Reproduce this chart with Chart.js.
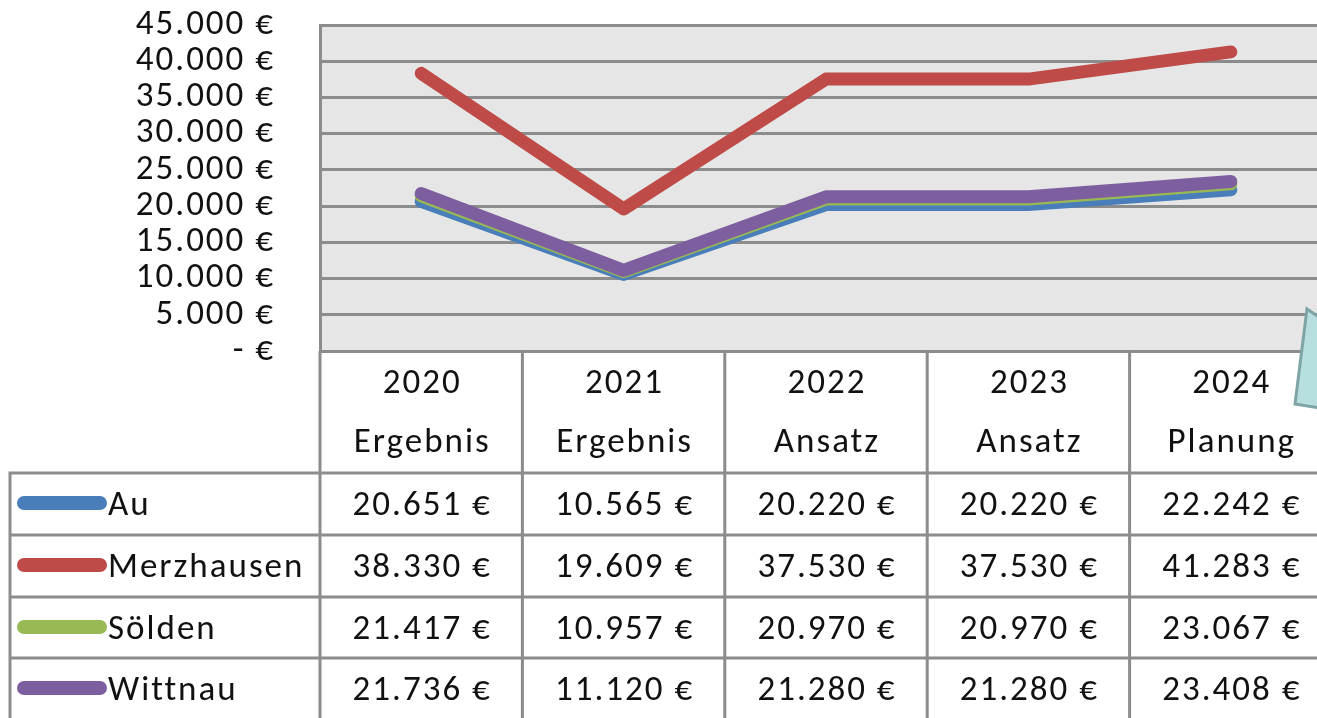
<!DOCTYPE html>
<html><head><meta charset="utf-8">
<script src="https://cdn.jsdelivr.net/npm/chart.js@4.4.1/dist/chart.umd.min.js"></script>
<style>
html,body{margin:0;padding:0;background:#fff;overflow:hidden;width:1317px;height:718px}
#wrap{position:absolute;left:0;top:0;width:1332px;height:718px}
</style></head><body>
<div id="wrap"><canvas id="c" width="1332" height="718"></canvas></div>
<script>
const years = ['2020','2021','2022','2023','2024'];
const phases = ['Ergebnis','Ergebnis','Ansatz','Ansatz','Planung'];
const seriesNames = ['Au','Merzhausen','Sölden','Wittnau'];
const au = [20651,10565,20220,20220,22242];
const merzhausen = [38330,19609,37530,37530,41283];
const soelden = [21417,10957,20970,20970,23067];
const wittnau = [21736,11120,21280,21280,23408];
const yTicks = [0,5000,10000,15000,20000,25000,30000,35000,40000,45000];
const seriesColors = ['#4a7ebb','#be4b48','#98b954','#7d5fa0'];

const FONT = 'Carlito, Lato, sans-serif';
const FSIZE = 35;
const SPACING = '2px';
const GRID = '#8c8c8c';

function fmt(v){
  if (v === 0) return '- €';
  return String(v).replace(/\B(?=(\d{3})+(?!\d))/g,'.') + ' €';
}

const allSeries = [au, merzhausen, soelden, wittnau];

const bgPlugin = {
  id:'bg',
  beforeDraw(chart){
    const {ctx, chartArea:a} = chart;
    ctx.letterSpacing = SPACING;
    ctx.save();
    ctx.fillStyle = '#e6e6e6';
    ctx.fillRect(a.left, a.top, a.right - a.left, a.bottom - a.top);
    ctx.restore();
  }
};

const tablePlugin = {
  id:'table',
  afterDraw(chart){
    const {ctx, chartArea:a} = chart;
    const xs = chart.scales.x;
    const n = years.length;
    const colW = (a.right - a.left) / n;
    const rowTops = [473, 535, 597, 658];
    const tableLeft = 10;
    const bottom = 730;
    ctx.save();
    ctx.letterSpacing = SPACING;
    ctx.strokeStyle = GRID;
    ctx.lineWidth = 3;
    ctx.beginPath();
    for (let i = 0; i <= n; i++) {
      const x = a.left + i * colW;
      ctx.moveTo(x, a.bottom); ctx.lineTo(x, bottom);
    }
    ctx.moveTo(tableLeft, rowTops[0] - 1.5); ctx.lineTo(tableLeft, bottom);
    rowTops.forEach(y => { ctx.moveTo(tableLeft, y); ctx.lineTo(a.right + 10, y); });
    ctx.stroke();

    ctx.fillStyle = '#111';
    ctx.font = FSIZE + 'px ' + FONT;
    ctx.textAlign = 'center';
    ctx.textBaseline = 'alphabetic';
    for (let i = 0; i < n; i++) {
      const cx = xs.getPixelForValue(i) + 1;
      ctx.fillText(years[i], cx, 393);
      ctx.fillText(phases[i], cx, 452);
      for (let s = 0; s < allSeries.length; s++) {
        ctx.fillText(fmt(allSeries[s][i]), cx, rowTops[s] + 42);
      }
    }
    ctx.textAlign = 'left';
    for (let s = 0; s < seriesNames.length; s++) {
      const cy = rowTops[s] + 30;
      ctx.strokeStyle = seriesColors[s];
      ctx.lineWidth = 14;
      ctx.lineCap = 'round';
      ctx.beginPath(); ctx.moveTo(24, cy); ctx.lineTo(100, cy); ctx.stroke();
      ctx.fillStyle = '#111';
      ctx.fillText(seriesNames[s], 108, rowTops[s] + 42);
    }
    // callout shape (decoration)
    ctx.beginPath();
    ctx.moveTo(1307, 309);
    ctx.lineTo(1295, 404);
    ctx.lineTo(1345, 412);
    ctx.lineTo(1345, 335);
    ctx.closePath();
    ctx.fillStyle = '#b7dfe0';
    ctx.fill();
    ctx.lineWidth = 3;
    ctx.lineCap = 'butt';
    ctx.lineJoin = 'miter';
    ctx.strokeStyle = '#7fa4a5';
    ctx.stroke();
    ctx.restore();
  }
};

const orders = [4,3,2,1];
new Chart(document.getElementById('c'), {
  type:'line',
  data:{
    labels: years,
    datasets: seriesNames.map((name, i) => ({
      label: name,
      data: allSeries[i],
      borderColor: seriesColors[i],
      backgroundColor: seriesColors[i],
      borderWidth: 13,
      borderCapStyle: 'round',
      borderJoinStyle: 'round',
      pointRadius: 0,
      tension: 0,
      fill: false,
      order: orders[i]
    }))
  },
  options:{
    responsive:false,
    animation:false,
    devicePixelRatio:1,
    layout:{padding:{left:0,right:0,top:25,bottom:367}},
    plugins:{legend:{display:false}, tooltip:{enabled:false}},
    scales:{
      x:{type:'category', offset:true, display:false},
      y:{
        min:0, max:45000,
        afterFit(s){ s.width = 320; s.paddingTop = 0; s.paddingBottom = 0; },
        afterBuildTicks(s){ s.ticks = yTicks.map(v => ({value:v})); },
        ticks:{autoSkip:false, padding:45, color:'#111', font:{family:FONT, size:FSIZE, lineHeight:1}, callback:v => fmt(v)},
        grid:{color:GRID, lineWidth:3, drawTicks:false},
        border:{display:true, color:GRID, width:3}
      }
    }
  },
  plugins:[bgPlugin, tablePlugin]
});
</script>
</body></html>
